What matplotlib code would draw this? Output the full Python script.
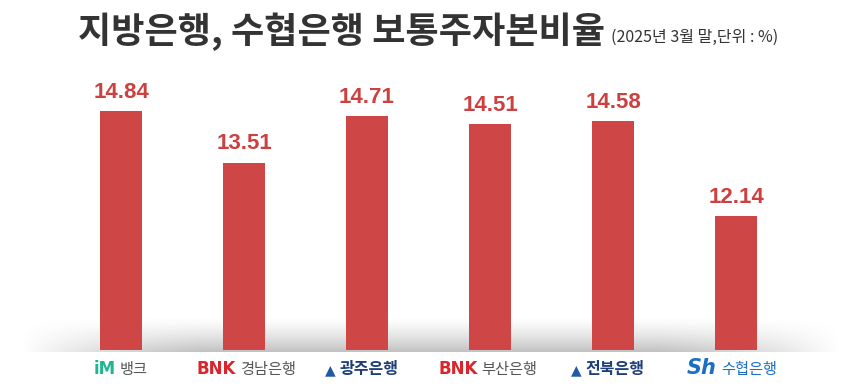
import numpy as np
import matplotlib.pyplot as plt

plt.rcParams['font.family'] = ['Noto Sans CJK KR', 'DejaVu Sans']

# 보통주자본비율 (2025년 3월 말, %)
banks = ['iM뱅크', 'BNK경남은행', '광주은행', 'BNK부산은행', '전북은행', 'Sh수협은행']
ratios = [14.84, 13.51, 14.71, 14.51, 14.58, 12.14]
# 로고 앞부분 / 은행명 부분
logo_marks = ['iM', 'BNK', '▲', 'BNK', '▲', 'Sh']
logo_names = ['뱅크', '경남은행', '광주은행', '부산은행', '전북은행', '수협은행']

bar_color = '#cf4646'
mark_colors = ['#1fb58f', '#d9252b', '#1f5aa6', '#d9252b', '#1f5aa6', '#1a6fc4']
name_colors = ['#555555', '#555555', '#1d3f78', '#555555', '#1d3f78', '#1a6fc4']

W, H = 860, 391
fig = plt.figure(figsize=(W / 100, H / 100), dpi=100)

# 바닥 그림자
bg = fig.add_axes([20 / W, (H - 352) / H, 820 / W, 36 / H], zorder=0)
yy = np.linspace(0, 1, 40)[:, None]
xx = np.linspace(-1, 1, 400)[None, :]
shade = (yy ** 1.4) * np.clip(1.3 - np.abs(xx) ** 2.5 * 1.3, 0, 1)
bg.imshow(1 - 0.24 * shade, cmap='gray', vmin=0, vmax=1, aspect='auto',
          interpolation='bilinear', origin='upper')
bg.axis('off')

ax = fig.add_axes([0, (H - 350) / H, 1, 290 / H], zorder=1)
ax.patch.set_alpha(0)
x = np.arange(len(banks))
ax.bar(x, ratios, width=42 / 123, bottom=0, color=bar_color)
ax.set_xlim(-121 / 123, (W - 121) / 123)
ax.set_ylim(8.70, 16.16)
for xi, v in zip(x, ratios):
    ax.text(xi, v + 0.22, f'{v:.2f}', ha='center', va='bottom', color='#cc4040',
            fontsize=16, fontweight='bold', family=['Liberation Sans', 'DejaVu Sans'])
ax.axis('off')

# 제목
fig.text(605 / W, (H - 43) / H, '지방은행, 수협은행 보통주자본비율', ha='right', va='baseline',
         fontsize=26, fontweight='bold', color='#333333')
fig.text(611 / W, (H - 42) / H, '(2025년 3월 말,단위 : %)', ha='left', va='baseline',
         fontsize=11.5, color='#333333')

# 은행 로고 라벨
centers = [121, 246, 362, 488, 608, 732]
fig.canvas.draw()
r = fig.canvas.get_renderer()
for c, mk, nm, mc, nc in zip(centers, logo_marks, logo_names, mark_colors, name_colors):
    style = 'italic' if mk == 'Sh' else 'normal'
    size = 15 if mk == 'Sh' else (10 if mk == '▲' else 12)
    t1 = fig.text(0, 0, mk, fontsize=size, fontweight='bold', color=mc, style=style,
                  family=['DejaVu Sans'], va='baseline')
    nw = 'bold' if nc == '#1d3f78' else 'normal'
    t2 = fig.text(0, 0, nm, fontsize=11.5 if nw == 'bold' else 11, fontweight=nw, color=nc,
                  va='baseline')
    w1 = t1.get_window_extent(r).width
    w2 = t2.get_window_extent(r).width
    gap = 4
    left = c - (w1 + gap + w2) / 2
    t1.set_position((left / W, (H - 374) / H))
    t2.set_position(((left + w1 + gap) / W, (H - 374) / H))

fig.savefig('out.png', dpi=100, facecolor='white')
